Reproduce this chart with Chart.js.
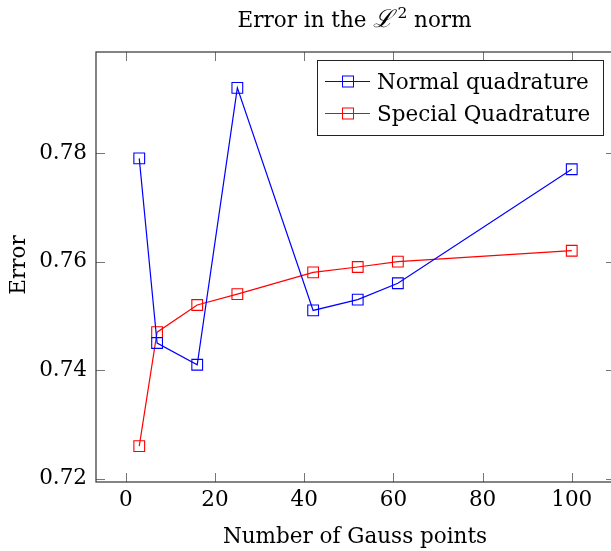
<!DOCTYPE html>
<html>
<head>
<meta charset="utf-8">
<script src="https://cdn.jsdelivr.net/npm/chart.js@4.4.1/dist/chart.umd.min.js"></script>
<style>
  html, body { margin: 0; padding: 0; background: #fff; overflow: hidden; }
  canvas { display: block; }
</style>
</head>
<body>
<canvas id="c" width="625" height="551"></canvas>
<script>
// ----- data -----
const gaussPoints = [3, 7, 16, 25, 42, 52, 61, 100]
const normalErr = [0.779, 0.745, 0.741, 0.792, 0.751, 0.753, 0.756, 0.777]
const specialErr = [0.726, 0.747, 0.752, 0.754, 0.758, 0.759, 0.760, 0.762]
const xTicks = [0, 20, 40, 60, 80, 100]
const yTicks = [0.72, 0.74, 0.76, 0.78]

// title pieces: text, script L, superscript, text
const titleParts = ['Error in the ', '\u2112', '2', ' norm']
const xLabel = 'Number of Gauss points'
const yLabel = 'Error'

const FONT = '"DejaVu Serif", serif'
const FS = 21.5

const toPoints = (ys) => gaussPoints.map((x, i) => ({ x, y: ys[i] }))

// frame, inward ticks, titles and legend (pgfplots look)
const decor = {
  id: 'decor',
  afterDraw(chart) {
    const { ctx, chartArea: a, scales } = chart
    ctx.save()

    // inward tick marks
    ctx.strokeStyle = '#777'
    ctx.lineWidth = 1
    const tl = 9
    ctx.beginPath()
    xTicks.forEach(v => {
      const px = Math.round(scales.x.getPixelForValue(v)) + 0.5
      ctx.moveTo(px, a.bottom); ctx.lineTo(px, a.bottom - tl)
      ctx.moveTo(px, a.top); ctx.lineTo(px, a.top + tl)
    })
    yTicks.forEach(v => {
      const py = Math.round(scales.y.getPixelForValue(v)) + 0.5
      ctx.moveTo(a.left, py); ctx.lineTo(a.left + tl, py)
      ctx.moveTo(a.right, py); ctx.lineTo(a.right - tl, py)
    })
    ctx.stroke()

    // frame
    ctx.strokeStyle = '#333'
    ctx.lineWidth = 1.2
    ctx.strokeRect(a.left, a.top, a.right - a.left, a.bottom - a.top)

    // title, built from pieces so the L and superscript can be sized
    ctx.fillStyle = '#000'
    ctx.textBaseline = 'alphabetic'
    ctx.textAlign = 'left'
    const fonts = [
      `${FS}px ${FONT}`,
      `italic ${FS + 3}px ${FONT}`,
      `${FS - 6}px ${FONT}`,
      `${FS}px ${FONT}`,
    ]
    const rise = [0, 0, -9, 0]
    const gap = [0, 4, 0, 0]
    const widths = titleParts.map((t, i) => { ctx.font = fonts[i]; return ctx.measureText(t).width + gap[i] })
    let tx = 354.5 - widths.reduce((s, w) => s + w, 0) / 2
    titleParts.forEach((t, i) => {
      ctx.font = fonts[i]
      ctx.fillText(t, tx, 27 + rise[i])
      tx += widths[i]
    })

    ctx.font = `${FS}px ${FONT}`
    ctx.textAlign = 'center'
    ctx.fillText(xLabel, 355, 543)
    ctx.save()
    ctx.translate(25, 265)
    ctx.rotate(-Math.PI / 2)
    ctx.fillText(yLabel, 0, 0)
    ctx.restore()

    // legend
    const lx = 317, ly = 60, lw = 286, lh = 75
    ctx.fillStyle = '#fff'
    ctx.fillRect(lx, ly, lw, lh)
    ctx.strokeStyle = '#222'
    ctx.lineWidth = 1
    ctx.strokeRect(lx + 0.5, ly + 0.5, lw, lh)
    const rows = [81.5, 113.5]
    chart.data.datasets.forEach((ds, i) => {
      const cy = rows[i]
      ctx.strokeStyle = ds.borderColor
      ctx.lineWidth = 1.2
      ctx.beginPath()
      ctx.moveTo(325, cy); ctx.lineTo(370, cy)
      ctx.stroke()
      ctx.lineWidth = 1
      ctx.strokeRect(342.5, cy - 5.5, 11, 11)
      ctx.fillStyle = '#000'
      ctx.textAlign = 'left'
      ctx.fillText(ds.label, 377, cy + 7)
    })

    ctx.restore()
  }
}

const axisCommon = {
  type: 'linear',
  grid: { display: false, drawTicks: false },
  border: { display: false },
}

new Chart(document.getElementById('c'), {
  type: 'scatter',
  data: {
    datasets: [
      {
        label: 'Normal quadrature',
        data: toPoints(normalErr),
        showLine: true,
        borderColor: '#0000ff',
        backgroundColor: 'rgba(0,0,0,0)',
        borderWidth: 1.2,
        pointStyle: 'rect',
        pointRadius: 7.6,
        pointBorderWidth: 1.1,
        pointBorderColor: '#0000ff',
        pointBackgroundColor: 'rgba(0,0,0,0)',
      },
      {
        label: 'Special Quadrature',
        data: toPoints(specialErr),
        showLine: true,
        borderColor: '#ff0000',
        backgroundColor: 'rgba(0,0,0,0)',
        borderWidth: 1.2,
        pointStyle: 'rect',
        pointRadius: 7.6,
        pointBorderWidth: 1.1,
        pointBorderColor: '#ff0000',
        pointBackgroundColor: 'rgba(0,0,0,0)',
      },
    ],
  },
  options: {
    responsive: false,
    animation: false,
    layout: { padding: { top: 52, right: 10, left: 0, bottom: 0 } },
    plugins: {
      legend: { display: false },
      title: { display: false },
      tooltip: { enabled: false },
    },
    scales: {
      x: {
        ...axisCommon,
        min: -6.7,
        max: 109.7,
        afterBuildTicks: s => { s.ticks = xTicks.map(value => ({ value })) },
        afterFit: s => { s.height = 69 },
        ticks: { color: '#000', font: { family: FONT, size: FS }, padding: 6, maxRotation: 0 },
      },
      y: {
        ...axisCommon,
        min: 0.7194,
        max: 0.7986,
        afterBuildTicks: s => { s.ticks = yTicks.map(value => ({ value })) },
        afterFit: s => { s.width = 96 },
        ticks: {
          color: '#000', font: { family: FONT, size: FS }, padding: 9,
          callback: v => v.toFixed(2),
        },
      },
    },
  },
  plugins: [decor],
})
</script>
</body>
</html>
